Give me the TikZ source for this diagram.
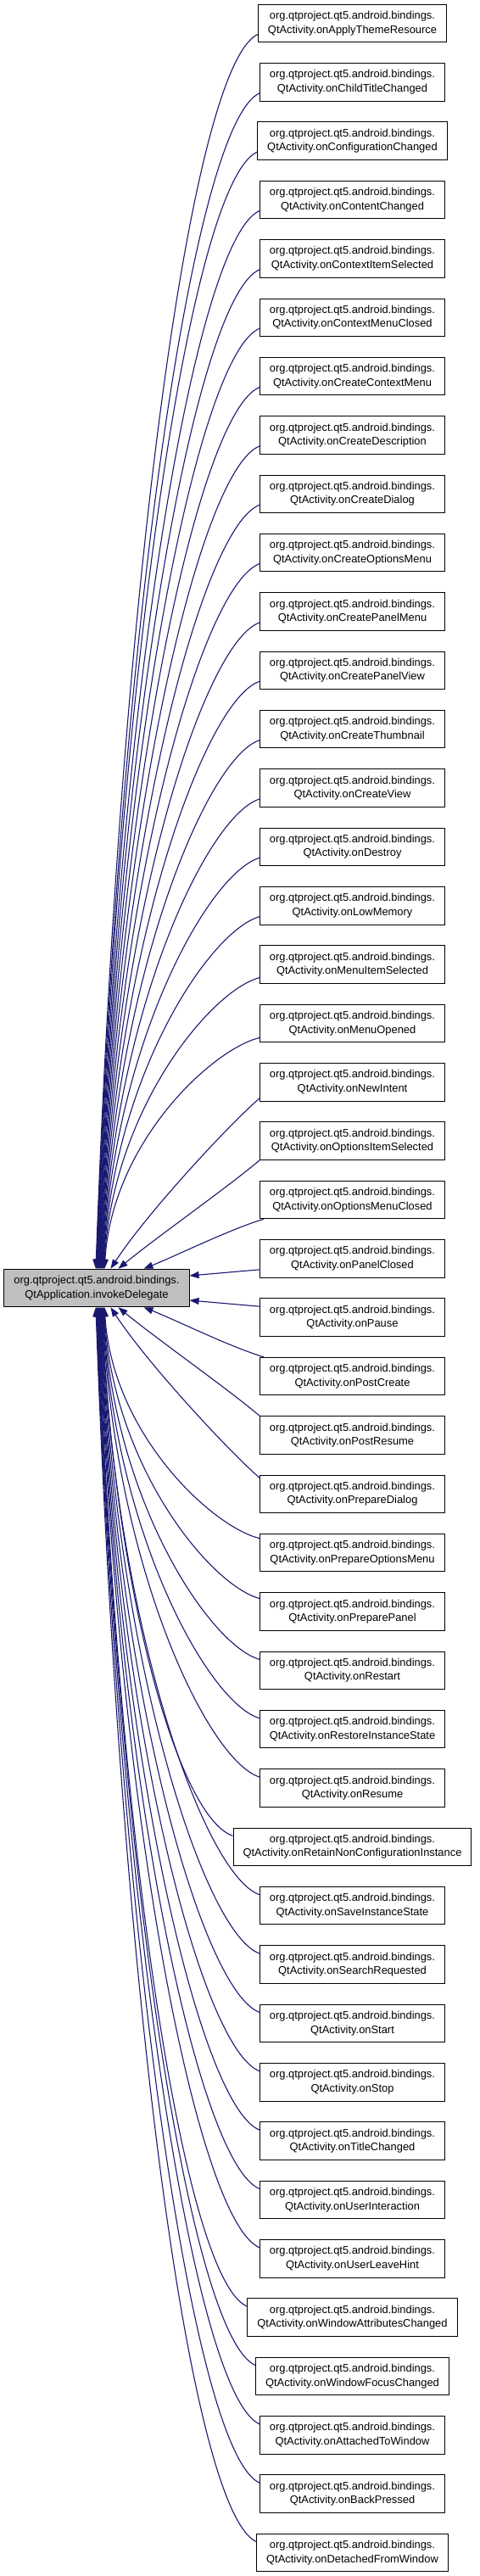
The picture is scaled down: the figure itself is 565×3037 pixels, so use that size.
\documentclass[tikz,border=0pt]{standalone}
\usepackage{fontspec}
\setmainfont{Liberation Sans}
\usetikzlibrary{arrows.meta,calc}
\definecolor{edgeblue}{RGB}{25,25,112}
\definecolor{ctrgray}{RGB}{191,191,191}
\begin{document}
\begin{tikzpicture}[x=1pt,y=1pt,
  box/.style={draw=black, line width=1pt, fill=white, align=center,
    font=\fontsize{12.9}{16.5}\selectfont, inner xsep=11.5pt, inner ysep=0pt,
    minimum height=44.5pt},
  ctrbox/.style={box, fill=ctrgray},
  call/.style={draw=edgeblue, line width=1.1pt, -{Triangle[length=11pt,width=8pt]}}]
\useasboundingbox (0,0) rectangle (565,-3037);

\node[ctrbox] (ctr) at (114,-1518.5) {org.qtproject.qt5.android.bindings.\\QtApplication.invokeDelegate};

\foreach \n [count=\i] in {ApplyThemeResource, ChildTitleChanged, ConfigurationChanged,
  ContentChanged, ContextItemSelected, ContextMenuClosed, CreateContextMenu,
  CreateDescription, CreateDialog, CreateOptionsMenu, CreatePanelMenu, CreatePanelView,
  CreateThumbnail, CreateView, Destroy, LowMemory, MenuItemSelected, MenuOpened,
  NewIntent, OptionsItemSelected, OptionsMenuClosed, PanelClosed, Pause, PostCreate,
  PostResume, PrepareDialog, PrepareOptionsMenu, PreparePanel, Restart,
  RestoreInstanceState, Resume, RetainNonConfigurationInstance, SaveInstanceState,
  SearchRequested, Start, Stop, TitleChanged, UserInteraction, UserLeaveHint,
  WindowAttributesChanged, WindowFocusChanged, AttachedToWindow, BackPressed,
  DetachedFromWindow}
  \node[box] (c\i) at (415.5,{-(27.5+(\i-1)*69.35)}) {org.qtproject.qt5.android.bindings.\\QtActivity.on\n};

% far callers (curved, arriving at top / bottom of the central node)
\foreach \i in {1,...,18}{
  \pgfmathtruncatemacro\j{45-\i}
  \pgfmathsetmacro\so{\i<17 ? 13 : (\i==17 ? 15.5 : 17)}
  \pgfmathsetmacro\xe{108.5+(\i-1)*0.6}
  \pgfmathsetmacro\dy{1496-(27.5+(\i-1)*69.35+\so)}
  \pgfmathsetmacro\ax{-(50+0.02*\dy)}
  \pgfmathsetmacro\ay{8+0.02*\dy}
  \pgfmathsetmacro\L{0.55*\dy}
  \pgfmathsetmacro\bx{5+0.03*\L}
  \draw[call] ($(c\i.west)+(0,-\so)$) .. controls +(\ax,-\ay) and +(\bx,\L) .. ($(ctr.north west)+(\xe,0)$);
  \draw[call] ($(c\j.west)+(0,\so)$) .. controls +(\ax,\ay) and +(\bx,-\L) .. ($(ctr.south west)+(\xe,0)$);
}

% near callers
\draw[call] ($(c19.west)+(0,-19)$) .. controls +(-40,-35) and +(41,63) .. ($(ctr.north west)+(126,0)$);
\draw[call] ($(c26.west)+(0,19)$) .. controls +(-40,35) and +(41,-63) .. ($(ctr.south west)+(126,0)$);
\draw[call] (c20.south west) .. controls +(-35,-30) and +(45,37) .. ($(ctr.north west)+(135,0)$);
\draw[call] (c25.north west) .. controls +(-35,30) and +(45,-37) .. ($(ctr.south west)+(135,0)$);
\draw[call] ($(c21.south west)+(5,0)$) .. controls +(-40,-12) and +(40,16) .. ($(ctr.north west)+(165,0)$);
\draw[call] ($(c24.north west)+(5,0)$) .. controls +(-40,12) and +(40,-16) .. ($(ctr.south west)+(165,0)$);
\draw[call] ($(c22.west)+(0,-13)$) -- ($(ctr.east)+(0,14.5)$);
\draw[call] ($(c23.west)+(0,13)$) -- ($(ctr.east)+(0,-14.5)$);
\end{tikzpicture}
\end{document}
